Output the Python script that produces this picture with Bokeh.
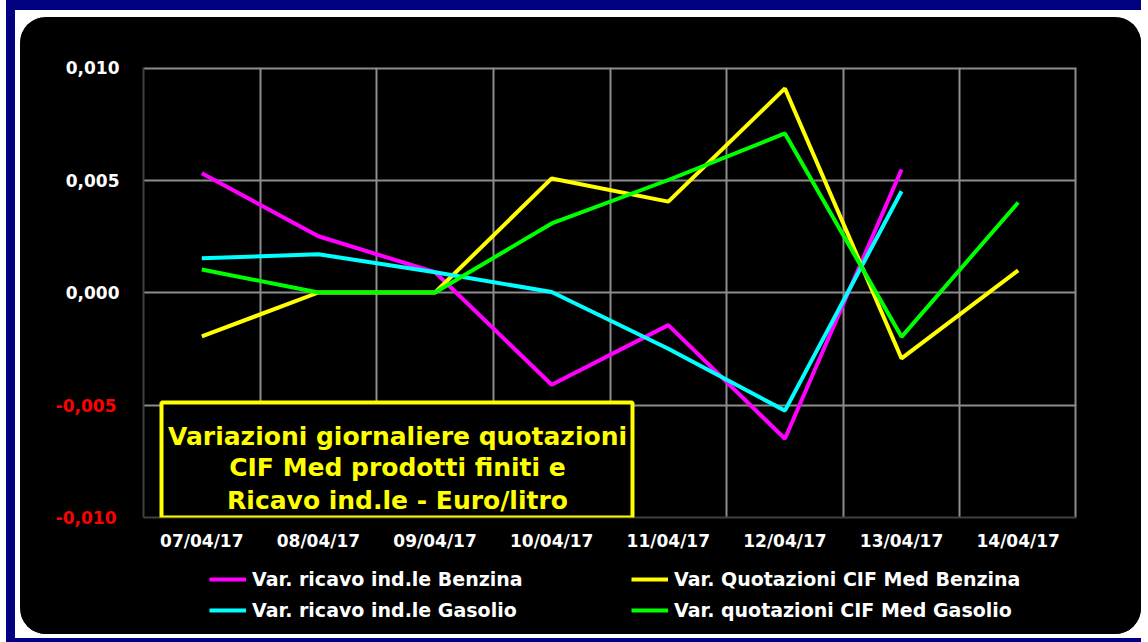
from bokeh.plotting import figure
from bokeh.layouts import column
from bokeh.models import (Range1d, FixedTicker, BoxAnnotation, Label, Legend, LegendItem,
                          LinearAxis, Span)
from bokeh.embed import file_html
from bokeh.resources import INLINE

# ---------------- data ----------------
dates = ["07/04/17", "08/04/17", "09/04/17", "10/04/17",
         "11/04/17", "12/04/17", "13/04/17", "14/04/17"]
ricavo_benzina = [0.0053, 0.0025, 0.0009, -0.0041, -0.00145, -0.0065, 0.00547]
ricavo_gasolio = [0.00152, 0.0017, 0.0009, 0.00002, -0.0025, -0.00525, 0.0045]
cif_benzina = [-0.00195, 0.0, 0.0, 0.00507, 0.00404, 0.00907, -0.00293, 0.00098]
cif_gasolio = [0.00102, 0.0, 0.0, 0.00307, 0.005, 0.00707, -0.00197, 0.004]
series_names = ["Var. ricavo ind.le Benzina", "Var. Quotazioni CIF Med Benzina",
                "Var. ricavo ind.le Gasolio", "Var. quotazioni CIF Med Gasolio"]
series_colors = ["#ff00ff", "#ffff00", "#00ffff", "#00ff00"]
y_ticks = [-0.010, -0.005, 0.0, 0.005, 0.010]
y_tick_labels = ["-0,010", "-0,005", "0,000", "0,005", "0,010"]
title_lines = ["Variazioni giornaliere quotazioni",
               "CIF Med prodotti finiti e",
               "Ricavo ind.le - Euro/litro"]

FONT = "DejaVu Sans"
GRID = "#8c8c8c"
xpos = [i + 0.5 for i in range(len(dates))]
series = [ricavo_benzina, cif_benzina, ricavo_gasolio, cif_gasolio]

# ---------------- chart ----------------
p = figure(width=1121, height=548,
           x_range=Range1d(0, len(dates)), y_range=Range1d(y_ticks[0], y_ticks[-1]),
           output_backend="svg", toolbar_location=None,
           min_border_left=123, min_border_right=65, min_border_top=50, min_border_bottom=48,
           border_fill_color="black", background_fill_color="black",
           outline_line_color=None)

p.ygrid.ticker = FixedTicker(ticks=y_ticks)
p.xgrid.ticker = FixedTicker(ticks=list(range(1, len(dates) + 1)))
for g in (p.xgrid, p.ygrid):
    g.grid_line_color = GRID
    g.grid_line_width = 2
# top and right edges of the plot area (grid lines lying on the frame border)
p.add_layout(Span(location=y_ticks[-1], dimension="width", line_color=GRID, line_width=4,
                  level="underlay"))
p.add_layout(Span(location=len(dates), dimension="height", line_color=GRID, line_width=4,
                  level="underlay"))

def style_axis(ax, color):
    ax.major_tick_line_color = None
    ax.minor_tick_line_color = None
    ax.major_tick_out = 0
    ax.major_tick_in = 0
    ax.major_label_text_color = color
    ax.major_label_text_font = FONT
    ax.major_label_text_font_style = "bold"
    ax.major_label_text_font_size = "17px"

p.xaxis.ticker = FixedTicker(ticks=xpos)
p.xaxis.major_label_overrides = {x: d for x, d in zip(xpos, dates)}
p.yaxis.ticker = FixedTicker(ticks=y_ticks)
p.yaxis.major_label_overrides = {t: (lab if t >= 0 else "") for t, lab in zip(y_ticks, y_tick_labels)}
for ax in (p.xaxis, p.yaxis):
    ax.axis_line_color = "#404040"
    ax.axis_line_width = 2
    style_axis(ax, "white")
p.yaxis.major_label_standoff = 24
p.xaxis.major_label_standoff = 13

# second left axis carrying the negative (red) tick labels, aligned with the first
neg_axis = LinearAxis(ticker=FixedTicker(ticks=y_ticks),
                      major_label_overrides={t: (lab if t < 0 else "") for t, lab in zip(y_ticks, y_tick_labels)},
                      axis_line_color=None, major_label_standoff=-54)
style_axis(neg_axis, "#ff0000")
p.add_layout(neg_axis, "left")

for vals, col in zip(series, series_colors):
    p.line(xpos[:len(vals)], vals, line_color=col, line_width=4)

# title box (inside the frame)
p.add_layout(BoxAnnotation(left=18, right=489, top=115, bottom=0,
                           left_units="screen", right_units="screen",
                           top_units="screen", bottom_units="screen",
                           fill_color="black", fill_alpha=1, line_color="#ffff00",
                           line_alpha=1, line_width=4, level="annotation"))
for line, yb in zip(title_lines, [81, 50, 17]):
    p.add_layout(Label(x=254, y=yb, x_units="screen", y_units="screen", text=line,
                       text_align="center", text_baseline="alphabetic",
                       text_color="#ffff00", text_font=FONT, text_font_style="bold",
                       text_font_size="25px"))

# ---------------- legend strip (same series, drawn outside its visible y range) ----------------
pl = figure(width=1121, height=69, x_range=Range1d(0, len(dates)), y_range=Range1d(1, 2),
            output_backend="svg", toolbar_location=None,
            x_axis_type=None, y_axis_type=None,
            min_border_left=123, min_border_right=65, min_border_top=0, min_border_bottom=0,
            border_fill_color="black", background_fill_color="black",
            outline_line_color=None)
pl.grid.visible = False
swatches = [pl.line(xpos[:len(vals)], vals, line_color=c, line_width=4)
            for vals, c in zip(series, series_colors)]

def make_legend(idx, loc):
    lg = Legend(items=[LegendItem(label=series_names[i], renderers=[swatches[i]]) for i in idx],
                location=loc, orientation="vertical",
                label_text_color="white", label_text_font=FONT,
                label_text_font_style="bold", label_text_font_size="19px",
                glyph_width=37, glyph_height=28, label_height=28,
                spacing=3, padding=0, margin=0, label_standoff=6,
                border_line_color=None, background_fill_alpha=0)
    pl.add_layout(lg)

make_legend([0, 2], (66, 10))
make_legend([1, 3], (488, 10))

card = column(p, pl, spacing=0,
              styles={"border-radius": "26px", "overflow": "hidden", "background-color": "black"})
card.margin = (7, 0, 4, 5)

page = column(card, styles={"border-left": "9px solid #000080", "border-top": "10px solid #000080",
                            "border-bottom": "4px solid #000080",
                            "margin-left": "6px", "background-color": "white"})

open("out.html", "w").write(file_html(page, INLINE))
